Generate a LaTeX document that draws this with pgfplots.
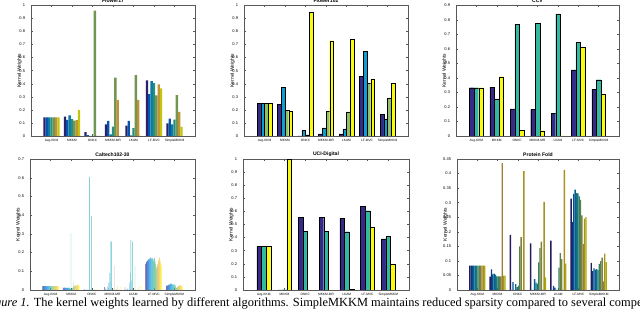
\documentclass[border=0pt]{standalone}
\usepackage{pgfplots}
\pgfplotsset{compat=1.18}
\usepackage{pgfplotstable}
\usepackage{fontspec}
\setmainfont{Liberation Serif}
\newfontfamily\hv{Liberation Sans}

% parula anchor colours at t = 0, 1/6, ..., 1
\definecolor{pa0}{rgb}{0.2081,0.1663,0.5292}
\definecolor{pa1}{rgb}{0.0165,0.4266,0.8786}
\definecolor{pa2}{rgb}{0.0590,0.6200,0.8200}
\definecolor{pa3}{rgb}{0.1986,0.7214,0.6310}
\definecolor{pa4}{rgb}{0.5709,0.7500,0.4200}
\definecolor{pa5}{rgb}{0.9626,0.7305,0.2600}
\definecolor{pa6}{rgb}{0.9763,0.9831,0.0538}
\newcommand\makepal[1]{%
  \pgfplotsforeachungrouped \i in {1,...,#1}{%
    \pgfmathsetmacro\myt{(\i-1)*6/(#1-1)}%
    \pgfmathtruncatemacro\myk{min(floor(\myt+0.001),5)}%
    \pgfmathtruncatemacro\myj{\myk+1}%
    \pgfmathtruncatemacro\myp{max(0,min(100,round((\myj-\myt)*100)))}%
    \edef\mydo{\noexpand\colorlet{p#1-\i}{pa\myk!\myp!pa\myj}}%
    \mydo
  }}
\makepal{3}\makepal{4}\makepal{7}\makepal{12}\makepal{48}

\pgfplotstableread{
x k1 k2 k3 k4 k5 k6 k7
1 0.1429 0.1429 0.1429 0.1429 0.1429 0.1429 0.1429
2 0.148 0.124 0.157 0.130 0.117 0.122 0.200
3 0.030 0.007 0 0 0.960 0 0
4 0.089 0.115 0.012 0.071 0.446 0.276 0
5 0.080 0.115 0.005 0.060 0.465 0.276 0
6 0.425 0.320 0.420 0.405 0.310 0.395 0.365
7 0.097 0.132 0.088 0.125 0.312 0.185 0.070
}\tfa

\pgfplotstableread{
x k1 k2 k3 k4
1 0.25 0.25 0.25 0.25
2 0.243 0.373 0.195 0.190
3 0 0.042 0.010 0.946
4 0.017 0.063 0.190 0.729
5 0.017 0.055 0.185 0.742
6 0.458 0.650 0.405 0.438
7 0.167 0.131 0.292 0.405
}\tfb

\pgfplotstableread{
x k1 k2 k3
1 0.3333 0.3333 0.3333
2 0.336 0.255 0.409
3 0.186 0.771 0.040
4 0.183 0.777 0.037
5 0.158 0.841 0
6 0.455 0.647 0.611
7 0.322 0.388 0.290
}\tfc

\pgfplotstableread{
x k1 k2 k3 k4 k5 k6 k7 k8 k9 k10 k11 k12 k13 k14 k15 k16 k17 k18 k19 k20 k21 k22 k23 k24 k25 k26 k27 k28 k29 k30 k31 k32 k33 k34 k35 k36 k37 k38 k39 k40 k41 k42 k43 k44 k45 k46 k47 k48
1 0.0208 0.0208 0.0208 0.0208 0.0208 0.0208 0.0208 0.0208 0.0208 0.0208 0.0208 0.0208 0.0208 0.0208 0.0208 0.0208 0.0208 0.0208 0.0208 0.0208 0.0208 0.0208 0.0208 0.0208 0.0208 0.0208 0.0208 0.0208 0.0208 0.0208 0.0208 0.0208 0.0208 0.0208 0.0208 0.0208 0.0208 0.0208 0.0208 0.0208 0.0208 0.0208 0.0208 0.0208 0.0208 0.0208 0.0208 0.0208
2 0.012 0.013 0.011 0.012 0.014 0.012 0.010 0.013 0.012 0.011 0.012 0.013 0.012 0.010 0.011 0.012 0.013 0.012 0.011 0.010 0.008 0.006 0.009 0.305 0.004 0.006 0.008 0.010 0.012 0.015 0.043 0.020 0.018 0.022 0.025 0.028 0.024 0.020 0.018 0.022 0.026 0.030 0.028 0.024 0.022 0.026 0.028 0.024
3 0 0.003 0 0 0 0 0 0 0 0 0 0 0 0 0 0 0 0.605 0 0 0 0 0.395 0 0 0 0 0 0 0 0 0 0 0 0 0 0 0 0 0 0 0 0 0 0 0 0 0
4 0.015 0 0 0 0.008 0 0 0 0 0.020 0 0.010 0 0.040 0 0 0.090 0.262 0 0.040 0 0.258 0 0 0 0 0 0 0 0 0.130 0 0 0 0.005 0 0 0 0.022 0 0 0 0 0 0 0 0.022 0
5 0.015 0 0 0 0 0 0 0.008 0 0 0 0 0 0.040 0 0.090 0 0.268 0 0.050 0 0 0.258 0 0 0 0 0 0 0.130 0 0 0 0 0 0 0 0 0 0.020 0 0 0 0 0 0 0.022 0
6 0.138 0.145 0.150 0.152 0.148 0.155 0.160 0.158 0.162 0.165 0.160 0.168 0.170 0.166 0.172 0.175 0.170 0.168 0.165 0.172 0.170 0.160 0.155 0.150 0.165 0.168 0.172 0.160 0.150 0.140 0.130 0.120 0.115 0.125 0.135 0.128 0.140 0.150 0.160 0.168 0.175 0.170 0.160 0.150 0.145 0.138 0.132 0.128
7 0.022 0.024 0.020 0.025 0.023 0.026 0.028 0.025 0.030 0.027 0.032 0.029 0.034 0.030 0.033 0.031 0.035 0.030 0.028 0.032 0.030 0.026 0.024 0.028 0.033 0.030 0.026 0.020 0.015 0.012 0.010 0.012 0.014 0.016 0.018 0.020 0.022 0.024 0.023 0.025 0.026 0.024 0.022 0.025 0.023 0.021 0.020 0.018
}\tfd

\pgfplotstableread{
x k1 k2 k3
1 0.3333 0.3333 0.3333
2 0 0.003 0.997
3 0.553 0.447 0
4 0.553 0.447 0
5 0.548 0.445 0.005
6 0.638 0.605 0.477
7 0.390 0.408 0.200
}\tfe

\pgfplotstableread{
x k1 k2 k3 k4 k5 k6 k7 k8 k9 k10 k11 k12
1 0.0833 0.0833 0.0833 0.0833 0.0833 0.0833 0.0833 0.0833 0.0833 0.0833 0.0833 0.0833
2 0.046 0.071 0.054 0.056 0.053 0.047 0.047 0.047 0.047 0.436 0.049 0.049
3 0.189 0 0.027 0 0.020 0.010 0.015 0.150 0.182 0 0.408 0
4 0.160 0 0 0.037 0.025 0.022 0.095 0.144 0.166 0 0.303 0.043
5 0.170 0 0.014 0.008 0 0 0.077 0.127 0.106 0 0.413 0.091
6 0.314 0.234 0.330 0.345 0.333 0.332 0.322 0.310 0.256 0.158 0.245 0.250
7 0.093 0.065 0.074 0.070 0.072 0.068 0.090 0.099 0.111 0.030 0.125 0.096
}\tff

\pgfplotsset{
  kw/.style={
    scale only axis, anchor=south west,
    xmin=0, xmax=8, ymin=0,
    xtick={1,2,3,4,5,6,7},
    xticklabels={Avg-KKM,MKKM,ONKC,MKKM-MR,LKAM,LF-MVC,SimpleMKKM},
    tick align=inside, tick pos=both,
    major tick length=1.4pt,
    axis line style={black!65, line width=0.3pt},
    tick style={black!65, line width=0.3pt},
    scaled y ticks=false,
    /pgf/number format/assume math mode=true,
    yticklabel style={font=\hv\fontsize{3}{3.5}\selectfont, /pgf/number format/fixed, /pgf/number format/precision=2, inner sep=0pt, xshift=-4.3pt},
    xticklabel style={font=\hv\fontsize{2.4}{2.8}\selectfont, inner sep=0pt, yshift=-2pt},
    ylabel={Kernel Weights},
    every axis y label/.style={at={(axis description cs:-0.07,0.5)}, rotate=90, anchor=center, inner sep=0pt, font=\hv\fontsize{3.7}{4}\selectfont},
    every axis title/.style={at={(axis description cs:0.5,1)}, anchor=south, inner sep=0pt, yshift=1.6pt, font=\hv\bfseries\fontsize{3.8}{4.5}\selectfont},
  },
  eb/.style={ybar, bar shift=0pt, draw=black, line width=0.15pt},
  nb/.style={ybar, bar shift=0pt, draw=none},
}

\begin{document}
\begin{tikzpicture}
\path[use as bounding box] (0,0) rectangle (480pt,235.5pt);
\clip (0,0) rectangle (480pt,235.5pt);

% Flower17
\begin{axis}[kw, at={(23.25pt,133.5pt)}, width=123pt, height=98pt, ymax=1,
  ytick={0,0.1,0.2,0.3,0.4,0.5,0.6,0.7,0.8,0.9,1}, title={Flower17}]
\pgfplotsinvokeforeach{1,...,7}{%
  \addplot[nb, bar width=0.114286, fill=p7-#1!78!black]
    table[x expr=\thisrow{x}+(#1-4)*0.114286, y=k#1] {\tfa};
}
\end{axis}

% Flower102
\begin{axis}[kw, at={(183pt,133.5pt)}, width=123pt, height=98pt, ymax=1,
  ytick={0,0.1,0.2,0.3,0.4,0.5,0.6,0.7,0.8,0.9,1}, title={Flower102}]
\pgfplotsinvokeforeach{1,...,4}{%
  \addplot[eb, bar width=0.181818, fill=p4-#1]
    table[x expr=\thisrow{x}+(#1-2.5)*0.181818, y=k#1] {\tfb};
}
\end{axis}

% CCV
\begin{axis}[kw, at={(342pt,133.5pt)}, width=122.25pt, height=98pt, ymax=0.9,
  ytick={0,0.1,0.2,0.3,0.4,0.5,0.6,0.7,0.8,0.9}, title={CCV}]
\pgfplotsinvokeforeach{1,...,3}{%
  \addplot[eb, bar width=0.222222, fill=p3-#1]
    table[x expr=\thisrow{x}+(#1-2)*0.222222, y=k#1] {\tfc};
}
\end{axis}

% Caltech102-30
\begin{axis}[kw, at={(22.5pt,18pt)}, width=123.75pt, height=98.25pt, ymax=0.7,
  ytick={0,0.1,0.2,0.3,0.4,0.5,0.6,0.7}, title={Caltech102-30}]
\pgfplotsinvokeforeach{1,...,48}{%
  \addplot[nb, fill opacity=0.8, bar width=0.016667, fill=p48-#1]
    table[x expr=\thisrow{x}+(#1-24.5)*0.016667, y=k#1] {\tfd};
}
\end{axis}

% UCI-Digital
\begin{axis}[kw, at={(182.25pt,18pt)}, width=124.5pt, height=98.25pt, ymax=1,
  ytick={0,0.1,0.2,0.3,0.4,0.5,0.6,0.7,0.8,0.9,1}, title={UCI-Digital}]
\pgfplotsinvokeforeach{1,...,3}{%
  \addplot[eb, bar width=0.222222, fill=p3-#1]
    table[x expr=\thisrow{x}+(#1-2)*0.222222, y=k#1] {\tfe};
}
\end{axis}

% Protein Fold
\begin{axis}[kw, at={(342.75pt,18pt)}, width=121.5pt, height=98.25pt, ymax=0.45,
  ytick={0,0.05,0.1,0.15,0.2,0.25,0.3,0.35,0.4,0.45}, title={Protein Fold}]
\pgfplotsinvokeforeach{1,...,12}{%
  \addplot[nb, bar width=0.066667, fill=p12-#1!68!black]
    table[x expr=\thisrow{x}+(#1-6.5)*0.066667, y=k#1] {\tff};
}
\end{axis}

\node[anchor=base west, inner sep=0pt, font=\fontsize{9.3}{11}\selectfont] at (0.75pt,5.25pt)
  {\llap{\itshape Fig}\textit{ure 1.} The kernel weights learned by different algorithms. SimpleMKKM maintains reduced sparsity compared to several competitors.};
\end{tikzpicture}
\end{document}
